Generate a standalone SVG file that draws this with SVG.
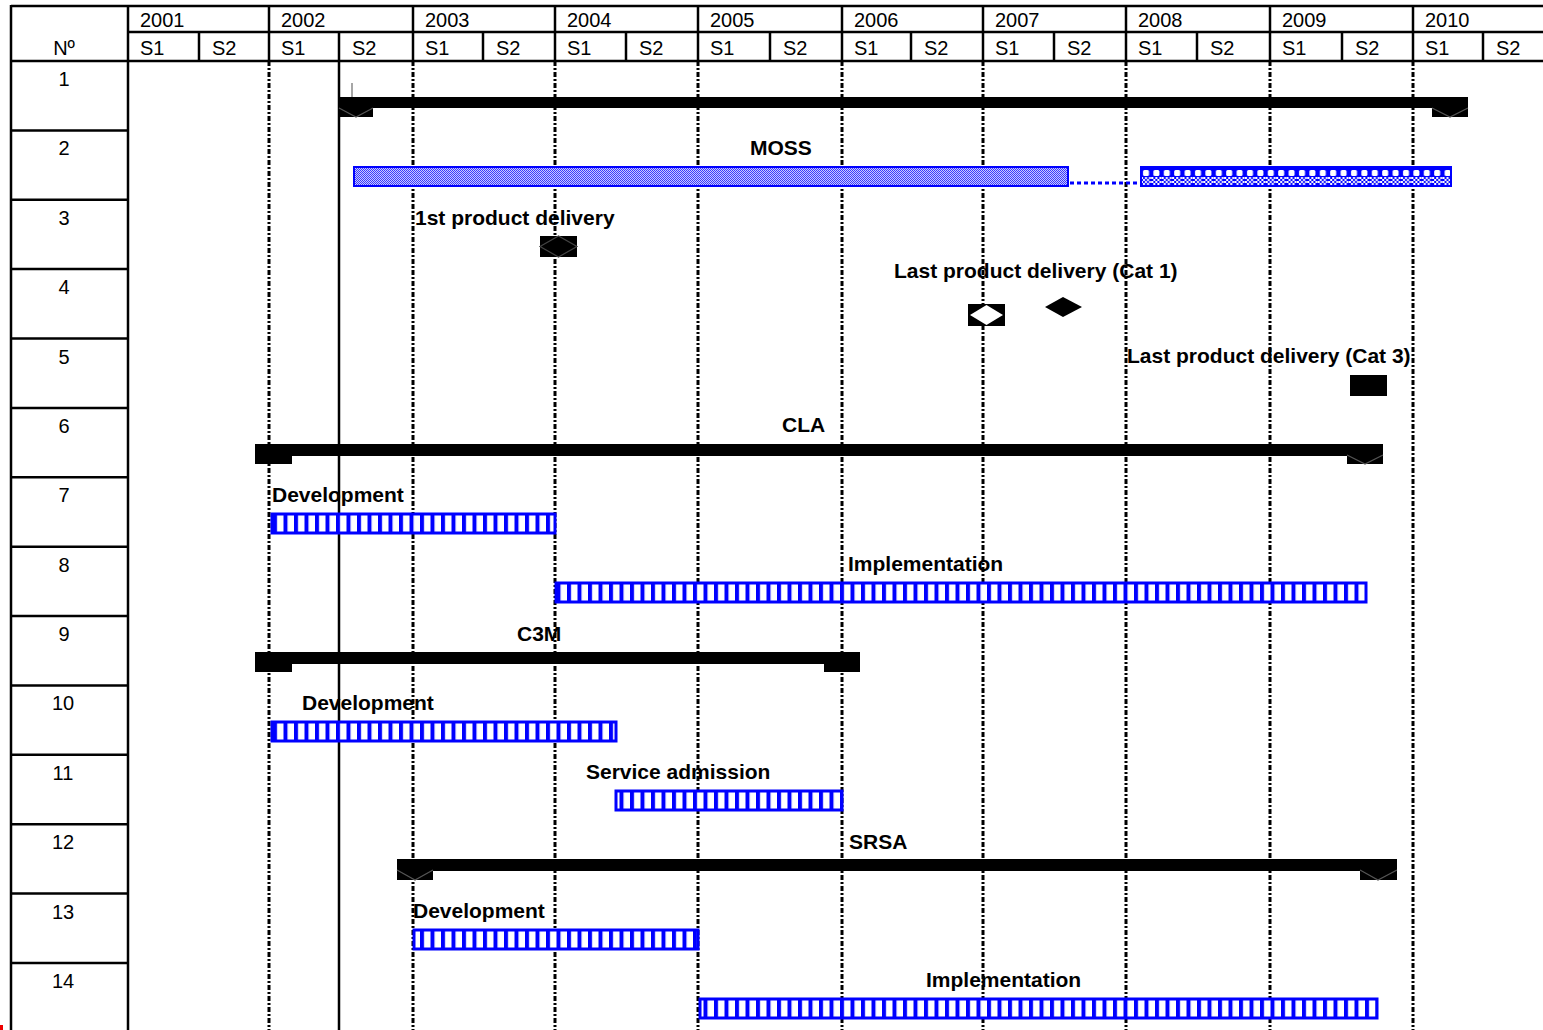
<svg xmlns="http://www.w3.org/2000/svg" width="1543" height="1030" viewBox="0 0 1543 1030">
<style>
.t{font-family:"Liberation Sans",Arial,sans-serif;font-size:20px;fill:#000}
.n{font-family:"Liberation Sans",Arial,sans-serif;font-size:20px;fill:#000;text-anchor:middle}
.b{font-family:"Liberation Sans",Arial,sans-serif;font-size:21px;font-weight:bold;fill:#000}
.grid{stroke:#000;stroke-width:2.5;fill:none}
.dd{stroke:#000;stroke-width:3;stroke-dasharray:5 2 2 2;fill:none}
.bar{fill:#000}
.chev{fill:none;stroke:#555;stroke-width:1.2}
.hb{fill:url(#hatch);stroke:#0000ff;stroke-width:3}
</style>
<defs>
<pattern id="hatch" patternUnits="userSpaceOnUse" width="10.5" height="30">
<rect x="0" y="0" width="10.5" height="30" fill="#fff"/>
<rect x="0" y="0" width="4" height="30" fill="#0000ff"/>
</pattern>
<pattern id="moss1" patternUnits="userSpaceOnUse" width="2" height="2">
<rect x="0" y="0" width="2" height="2" fill="#c8c8ff"/>
<rect x="0" y="0" width="1" height="1" fill="#3a3aff"/>
<rect x="1" y="1" width="1" height="1" fill="#3a3aff"/>
</pattern>
<pattern id="moss2" patternUnits="userSpaceOnUse" x="1141" y="167" width="10.4" height="20">
<rect x="0" y="0" width="10.4" height="20" fill="#0000ff"/>
<rect x="2" y="3" width="6" height="6" rx="1.5" fill="#fff"/>
<rect x="0" y="10" width="2" height="2" fill="#fff"/>
<rect x="4" y="10" width="2" height="2" fill="#fff"/>
<rect x="8" y="10" width="2" height="2" fill="#fff"/>
<rect x="2" y="12" width="2" height="2" fill="#fff"/>
<rect x="6" y="12" width="2" height="2" fill="#fff"/>
<rect x="0" y="14" width="2" height="2" fill="#fff"/>
<rect x="4" y="14" width="2" height="2" fill="#fff"/>
<rect x="8" y="14" width="2" height="2" fill="#fff"/>
<rect x="2" y="16" width="2" height="2" fill="#fff"/>
<rect x="6" y="16" width="2" height="2" fill="#fff"/>
</pattern>
</defs>
<rect x="0" y="0" width="1543" height="1030" fill="#fff"/>

<g id="table">
<line class="grid" x1="11" y1="6" x2="1543" y2="6"/>
<line class="grid" x1="128" y1="32" x2="1543" y2="32"/>
<line class="grid" x1="11" y1="61" x2="1543" y2="61"/>
<line class="grid" x1="11" y1="5" x2="11" y2="1030"/>
<line class="grid" x1="128" y1="5" x2="128" y2="1030"/>
<line class="grid" x1="11" y1="130.4" x2="128" y2="130.4"/>
<line class="grid" x1="11" y1="199.8" x2="128" y2="199.8"/>
<line class="grid" x1="11" y1="269.1" x2="128" y2="269.1"/>
<line class="grid" x1="11" y1="338.5" x2="128" y2="338.5"/>
<line class="grid" x1="11" y1="407.9" x2="128" y2="407.9"/>
<line class="grid" x1="11" y1="477.3" x2="128" y2="477.3"/>
<line class="grid" x1="11" y1="546.7" x2="128" y2="546.7"/>
<line class="grid" x1="11" y1="616" x2="128" y2="616"/>
<line class="grid" x1="11" y1="685.4" x2="128" y2="685.4"/>
<line class="grid" x1="11" y1="754.8" x2="128" y2="754.8"/>
<line class="grid" x1="11" y1="824.2" x2="128" y2="824.2"/>
<line class="grid" x1="11" y1="893.6" x2="128" y2="893.6"/>
<line class="grid" x1="11" y1="963" x2="128" y2="963"/>
<g class="grid">
<line x1="269" y1="6" x2="269" y2="61"/>
<line x1="413" y1="6" x2="413" y2="61"/>
<line x1="555" y1="6" x2="555" y2="61"/>
<line x1="698" y1="6" x2="698" y2="61"/>
<line x1="842" y1="6" x2="842" y2="61"/>
<line x1="983" y1="6" x2="983" y2="61"/>
<line x1="1126" y1="6" x2="1126" y2="61"/>
<line x1="1270" y1="6" x2="1270" y2="61"/>
<line x1="1413" y1="6" x2="1413" y2="61"/>
<line x1="199" y1="32" x2="199" y2="61"/>
<line x1="339" y1="32" x2="339" y2="1030"/>
<line x1="483" y1="32" x2="483" y2="61"/>
<line x1="626" y1="32" x2="626" y2="61"/>
<line x1="770" y1="32" x2="770" y2="61"/>
<line x1="911" y1="32" x2="911" y2="61"/>
<line x1="1054" y1="32" x2="1054" y2="61"/>
<line x1="1197" y1="32" x2="1197" y2="61"/>
<line x1="1342" y1="32" x2="1342" y2="61"/>
<line x1="1483" y1="32" x2="1483" y2="61"/>
</g>
<g class="dd">
<line x1="269" y1="61" x2="269" y2="1030"/>
<line x1="413" y1="61" x2="413" y2="1030"/>
<line x1="555" y1="61" x2="555" y2="1030"/>
<line x1="698" y1="61" x2="698" y2="1030"/>
<line x1="842" y1="61" x2="842" y2="1030"/>
<line x1="983" y1="61" x2="983" y2="1030"/>
<line x1="1126" y1="61" x2="1126" y2="1030"/>
<line x1="1270" y1="61" x2="1270" y2="1030"/>
<line x1="1413" y1="61" x2="1413" y2="1030"/>
</g>
<text class="n" x="64" y="55">Nº</text>
<text class="t" x="140" y="27">2001</text>
<text class="t" x="281" y="27">2002</text>
<text class="t" x="425" y="27">2003</text>
<text class="t" x="567" y="27">2004</text>
<text class="t" x="710" y="27">2005</text>
<text class="t" x="854" y="27">2006</text>
<text class="t" x="995" y="27">2007</text>
<text class="t" x="1138" y="27">2008</text>
<text class="t" x="1282" y="27">2009</text>
<text class="t" x="1425" y="27">2010</text>
<text class="t" x="140" y="55">S1</text>
<text class="t" x="212" y="55">S2</text>
<text class="t" x="281" y="55">S1</text>
<text class="t" x="352" y="55">S2</text>
<text class="t" x="425" y="55">S1</text>
<text class="t" x="496" y="55">S2</text>
<text class="t" x="567" y="55">S1</text>
<text class="t" x="639" y="55">S2</text>
<text class="t" x="710" y="55">S1</text>
<text class="t" x="783" y="55">S2</text>
<text class="t" x="854" y="55">S1</text>
<text class="t" x="924" y="55">S2</text>
<text class="t" x="995" y="55">S1</text>
<text class="t" x="1067" y="55">S2</text>
<text class="t" x="1138" y="55">S1</text>
<text class="t" x="1210" y="55">S2</text>
<text class="t" x="1282" y="55">S1</text>
<text class="t" x="1355" y="55">S2</text>
<text class="t" x="1425" y="55">S1</text>
<text class="t" x="1496" y="55">S2</text>
<text class="n" x="64" y="86">1</text>
<text class="n" x="64" y="155.4">2</text>
<text class="n" x="64" y="224.8">3</text>
<text class="n" x="64" y="294.1">4</text>
<text class="n" x="64" y="363.5">5</text>
<text class="n" x="64" y="432.9">6</text>
<text class="n" x="64" y="502.3">7</text>
<text class="n" x="64" y="571.7">8</text>
<text class="n" x="64" y="641">9</text>
<text class="n" x="63" y="710.4">10</text>
<text class="n" x="63" y="779.8">11</text>
<text class="n" x="63" y="849.2">12</text>
<text class="n" x="63" y="918.6">13</text>
<text class="n" x="63" y="988">14</text>
<rect x="0" y="1025" width="3" height="5" fill="#e00"/>
</g>

<g id="connectors">
<line x1="1070" y1="183" x2="1140" y2="183" stroke="#0000ff" stroke-width="3" stroke-dasharray="4 3"/>
</g>

<g id="row1">
<line x1="352" y1="83" x2="352" y2="103" stroke="#888" stroke-width="1.5"/>
<rect class="bar" x="339" y="97" width="1129" height="11"/>
<rect class="bar" x="339" y="97" width="34" height="20"/>
<polyline class="chev" points="339,108 356,117 373,108"/>
<rect class="bar" x="1432" y="97" width="36" height="20"/>
<polyline class="chev" points="1432,108 1450,117 1468,108"/>
</g>

<g id="row2">
<text class="b" x="750" y="155">MOSS</text>
<rect x="354" y="167" width="714" height="19" fill="url(#moss1)" stroke="#0000ff" stroke-width="2"/>
<rect x="1141" y="167" width="310" height="19" fill="url(#moss2)" stroke="#0000ff" stroke-width="2"/>
</g>

<g id="row3">
<text class="b" x="415" y="224.5">1st product delivery</text>
<rect class="bar" x="540" y="236" width="37" height="21"/>
<polygon points="540,246.5 558.5,236 577,246.5 558.5,257" fill="none" stroke="#444" stroke-width="1.2"/>
</g>

<g id="row4">
<text class="b" x="894" y="278">Last product delivery (Cat 1)</text>
<rect class="bar" x="968" y="304" width="37" height="22"/>
<polygon points="970,315 986.5,305 1003,315 986.5,325" fill="#fff"/>
<polygon points="1045,307 1063,297 1082,307 1063,317" fill="#000"/>
</g>

<g id="row5">
<text class="b" x="1127" y="363">Last product delivery (Cat 3)</text>
<rect class="bar" x="1350" y="375" width="37" height="21"/>
</g>

<g id="row6">
<text class="b" x="782" y="432">CLA</text>
<rect class="bar" x="255" y="444" width="1128" height="12"/>
<rect class="bar" x="255" y="444" width="37" height="20"/>
<rect class="bar" x="1347" y="444" width="36" height="20"/>
<polyline class="chev" points="1347,455 1365,464 1383,455"/>
</g>

<g id="row7">
<text class="b" x="272" y="502">Development</text>
<rect class="hb" x="272" y="514" width="283" height="19"/>
</g>

<g id="row8">
<text class="b" x="848" y="571">Implementation</text>
<rect class="hb" x="556" y="583" width="810" height="19"/>
</g>

<g id="row9">
<text class="b" x="517" y="641">C3M</text>
<rect class="bar" x="255" y="652" width="605" height="12"/>
<rect class="bar" x="255" y="652" width="37" height="20"/>
<rect class="bar" x="824" y="652" width="36" height="20"/>
</g>

<g id="row10">
<text class="b" x="302" y="710">Development</text>
<rect class="hb" x="272" y="722" width="344" height="19"/>
</g>

<g id="row11">
<text class="b" x="586" y="779">Service admission</text>
<rect class="hb" x="616" y="791" width="226" height="19"/>
</g>

<g id="row12">
<text class="b" x="849" y="849">SRSA</text>
<rect class="bar" x="397" y="859" width="1000" height="12"/>
<rect class="bar" x="397" y="859" width="36" height="21"/>
<polyline class="chev" points="397,870 415,880 433,870"/>
<rect class="bar" x="1360" y="859" width="37" height="21"/>
<polyline class="chev" points="1360,870 1378,880 1397,870"/>
</g>

<g id="row13">
<text class="b" x="413" y="918">Development</text>
<rect class="hb" x="414" y="930" width="284" height="19"/>
</g>

<g id="row14">
<text class="b" x="926" y="987">Implementation</text>
<rect class="hb" x="700" y="999" width="677" height="19"/>
</g>
</svg>
